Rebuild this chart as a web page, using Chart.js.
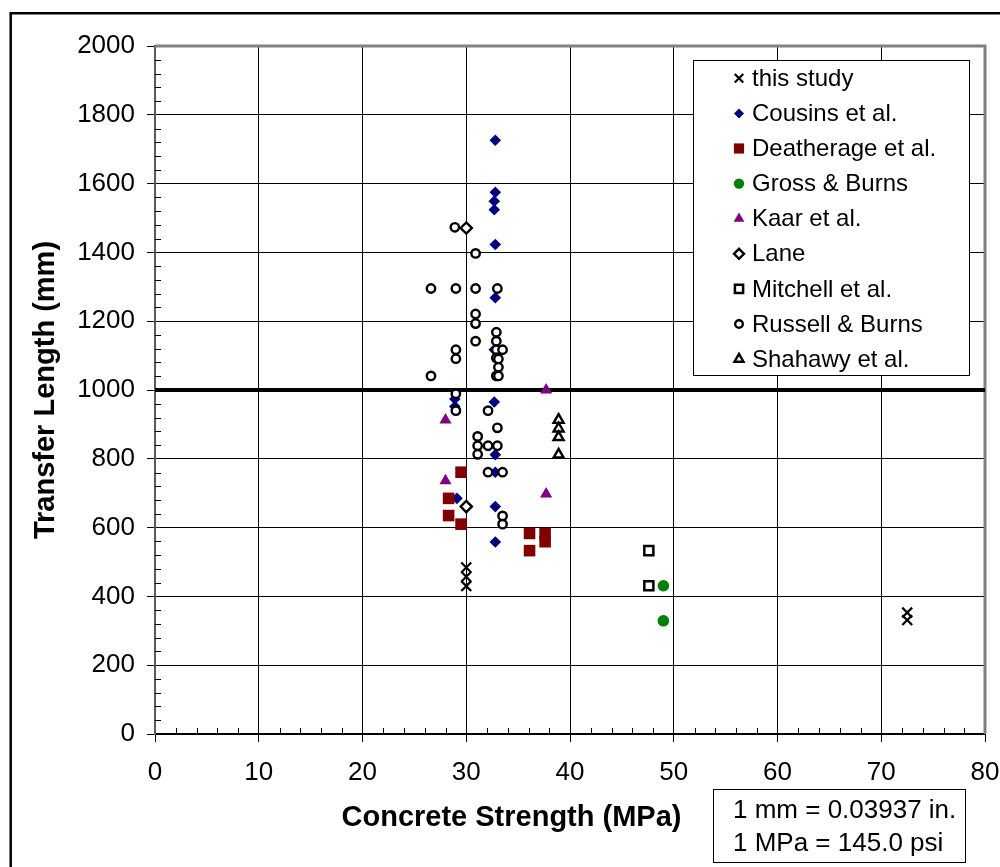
<!DOCTYPE html>
<html><head><meta charset="utf-8">
<script src="https://cdn.jsdelivr.net/npm/chart.js@4.4.0/dist/chart.umd.min.js"></script>
<style>html,body{margin:0;padding:0;background:#fff;}canvas{display:block;}</style>
</head><body>
<canvas id="c" width="1000" height="867"></canvas>
<script>
// ---------- data (MPa, mm) ----------
const thisStudyX = [30.0, 30.0, 30.0, 72.5, 72.5];
const thisStudyY = [484, 457, 430, 353, 331];

const cousinsX = [32.8, 32.8, 32.7, 32.7, 32.8, 32.8, 32.7, 28.9, 28.9, 32.7, 32.8, 32.8, 29.1, 32.8, 32.8];
const cousinsY = [1726, 1575, 1549, 1524, 1423, 1268, 1117, 974, 952, 965, 812, 761, 685, 661, 558];

const deatherageX = [29.5, 28.3, 28.3, 29.5, 36.1, 36.1, 37.6, 37.6];
const deatherageY = [761, 685, 635, 610, 583, 533, 583, 559];

const grossX = [49.0, 49.0];
const grossY = [431, 329];

const kaarX = [28.0, 28.0, 37.7, 37.7];
const kaarY = [913, 736, 1000, 698];

const laneX = [30.0, 30.0];
const laneY = [1471, 661];

const mitchellX = [47.6, 47.6];
const mitchellY = [533, 431];

const russellX = [28.9, 30.9, 26.6, 29.0, 30.9, 33.0, 30.9, 30.9, 30.9, 32.9, 32.9, 32.9, 33.5, 32.9, 33.1, 33.1, 32.9, 33.1,
                  29.0, 29.0, 26.6, 29.0, 29.0, 32.1, 33.0, 31.1, 31.1, 32.1, 33.0, 31.1, 32.1, 33.5, 33.5, 33.5];
const russellY = [1473, 1397, 1295, 1295, 1295, 1295, 1221, 1193, 1142, 1168, 1142, 1117, 1117, 1093, 1090, 1066, 1041, 1041,
                  1117, 1091, 1041, 989, 940, 940, 890, 865, 838, 838, 838, 813, 761, 761, 634, 610];

const shahawyX = [38.9, 38.9, 38.9, 38.9];
const shahawyY = [913, 888, 863, 812];

const refLineX = [0, 80];
const refLineY = [1000, 1000];

const xTickValues = [0, 10, 20, 30, 40, 50, 60, 70, 80];
const yTickValues = [0, 200, 400, 600, 800, 1000, 1200, 1400, 1600, 1800, 2000];

const seriesNames = ['this study', 'Cousins et al.', 'Deatherage et al.', 'Gross & Burns', 'Kaar et al.',
                     'Lane', 'Mitchell et al.', 'Russell & Burns', 'Shahawy et al.'];
const xTitle = 'Concrete Strength (MPa)';
const yTitle = 'Transfer Length (mm)';
const noteLines = ['1 mm = 0.03937 in.', '1 MPa = 145.0 psi'];

// ---------- build ----------
const zip = (xs, ys) => xs.map((x, i) => ({x: x, y: ys[i]}));
const FONT = '"Liberation Sans", Arial, Helvetica, sans-serif';

// plot markers (r) and legend markers (lr)
const markerStyles = [
  {style: 'crossRot', r: 7, lr: 6, fill: '#000', stroke: '#000', lw: 2.2},
  {style: 'rectRot', r: 5.8, lr: 5, fill: '#000080', stroke: '#000080', lw: 0},
  {style: 'rect', r: 8.2, lr: 7.2, fill: '#800000', stroke: '#800000', lw: 0},
  {style: 'circle', r: 5.8, lr: 5.2, fill: '#008000', stroke: '#008000', lw: 0},
  {style: 'triangle', r: 7, lr: 6.2, fill: '#800080', stroke: '#800080', lw: 0},
  {style: 'rectRot', r: 5.6, lr: 5, fill: '#ffffff', stroke: '#000', lw: 2.4},
  {style: 'rect', r: 6.4, lr: 5.8, fill: '#ffffff', stroke: '#000', lw: 2.5},
  {style: 'circle', r: 4.2, lr: 3.8, fill: '#ffffff', stroke: '#000', lw: 2.4},
  {style: 'triangle', r: 5.8, lr: 5.2, fill: '#ffffff', stroke: '#000', lw: 2.4}
];
const seriesData = [
  zip(thisStudyX, thisStudyY), zip(cousinsX, cousinsY), zip(deatherageX, deatherageY),
  zip(grossX, grossY), zip(kaarX, kaarY), zip(laneX, laneY), zip(mitchellX, mitchellY),
  zip(russellX, russellY), zip(shahawyX, shahawyY)
];

const datasets = seriesData.map((d, i) => ({
  type: 'scatter',
  label: seriesNames[i],
  data: d,
  showLine: false,
  pointStyle: markerStyles[i].style,
  pointRadius: markerStyles[i].r,
  pointHoverRadius: markerStyles[i].r,
  pointBackgroundColor: markerStyles[i].fill,
  pointBorderColor: markerStyles[i].stroke,
  pointBorderWidth: markerStyles[i].lw,
  order: 20 - i
}));
datasets.push({
  type: 'line',
  label: 'limit',
  data: zip(refLineX, refLineY),
  borderColor: '#000',
  borderWidth: 4,
  pointRadius: 0,
  fill: false,
  order: 100
});

function drawMarker(ctx, m, x, y) {
  const r = m.lr;
  ctx.beginPath();
  if (m.style === 'circle') {
    ctx.arc(x, y, r, 0, Math.PI * 2);
  } else if (m.style === 'rectRot') {
    ctx.moveTo(x, y - r); ctx.lineTo(x + r, y); ctx.lineTo(x, y + r); ctx.lineTo(x - r, y); ctx.closePath();
  } else if (m.style === 'rect') {
    const s = r * Math.SQRT1_2; ctx.rect(x - s, y - s, 2 * s, 2 * s);
  } else if (m.style === 'triangle') {
    ctx.moveTo(x, y - r);
    ctx.lineTo(x + r * Math.sin(2 * Math.PI / 3), y - r * Math.cos(2 * Math.PI / 3));
    ctx.lineTo(x + r * Math.sin(4 * Math.PI / 3), y - r * Math.cos(4 * Math.PI / 3));
    ctx.closePath();
  } else if (m.style === 'crossRot') {
    const o = r * Math.SQRT1_2;
    ctx.moveTo(x - o, y - o); ctx.lineTo(x + o, y + o);
    ctx.moveTo(x + o, y - o); ctx.lineTo(x - o, y + o);
    ctx.strokeStyle = m.stroke; ctx.lineWidth = m.lw; ctx.stroke();
    return;
  }
  ctx.fillStyle = m.fill; ctx.fill();
  if (m.lw > 0) { ctx.strokeStyle = m.stroke; ctx.lineWidth = m.lw; ctx.stroke(); }
}

const decor = {
  id: 'decor',
  beforeDatasetsDraw(chart) {
    const {ctx, chartArea: a, scales: {x, y}} = chart;
    ctx.save();
    // plot area border (top / right)
    ctx.strokeStyle = '#808080'; ctx.lineWidth = 3;
    ctx.beginPath(); ctx.moveTo(a.left, a.top); ctx.lineTo(a.right, a.top); ctx.lineTo(a.right, a.bottom); ctx.stroke();
    // minor ticks
    ctx.strokeStyle = '#000'; ctx.lineWidth = 1;
    ctx.beginPath();
    for (let v = 40; v < 2000; v += 40) {
      if (v % 200 === 0) continue;
      const py = Math.round(y.getPixelForValue(v)) + 0.5;
      ctx.moveTo(a.left, py); ctx.lineTo(a.left + 6, py);
    }
    for (let v = 2; v < 80; v += 2) {
      if (v % 10 === 0) continue;
      const px = Math.round(x.getPixelForValue(v)) + 0.5;
      ctx.moveTo(px, a.bottom); ctx.lineTo(px, a.bottom - 6);
    }
    ctx.stroke();
    ctx.restore();
  },
  afterDraw(chart) {
    const {ctx} = chart;
    ctx.save();
    // legend
    ctx.fillStyle = '#fff'; ctx.fillRect(693.5, 60.5, 276, 315);
    ctx.strokeStyle = '#000'; ctx.lineWidth = 1; ctx.strokeRect(693.5, 60.5, 276, 315);
    ctx.font = '24px ' + FONT; ctx.textAlign = 'left'; ctx.textBaseline = 'middle';
    seriesNames.forEach((n, i) => {
      const cy = 78.3 + i * 35.1;
      drawMarker(ctx, markerStyles[i], 739, cy);
      ctx.fillStyle = '#000';
      ctx.fillText(n, 752, cy + 1);
    });
    // x title
    ctx.font = 'bold 29px ' + FONT; ctx.textAlign = 'center'; ctx.textBaseline = 'alphabetic';
    ctx.fillStyle = '#000';
    ctx.fillText(xTitle, 511.5, 826);
    // conversion note
    ctx.strokeStyle = '#000'; ctx.lineWidth = 1; ctx.strokeRect(713.5, 789.5, 252, 73);
    ctx.font = '26px ' + FONT; ctx.textAlign = 'left';
    ctx.fillText(noteLines[0], 733, 818);
    ctx.fillText(noteLines[1], 733, 851);
    // outer frame
    ctx.strokeStyle = '#000'; ctx.lineWidth = 2.5;
    ctx.beginPath(); ctx.moveTo(10.7, 867); ctx.lineTo(10.7, 13.3); ctx.lineTo(1000, 13.3); ctx.stroke();
    ctx.restore();
  }
};

new Chart(document.getElementById('c'), {
  data: {datasets: datasets},
  options: {
    responsive: false,
    devicePixelRatio: 1,
    animation: false,
    events: [],
    layout: {padding: {left: 10, top: 46, right: 15, bottom: 0}},
    plugins: {legend: {display: false}, tooltip: {enabled: false}, title: {display: false}},
    scales: {
      x: {
        type: 'linear', position: 'bottom', min: 0, max: 80,
        afterBuildTicks: s => { s.ticks = xTickValues.map(v => ({value: v})); },
        afterFit: s => { s.height = 133; s.paddingRight = 15; s.paddingLeft = 0; },
        ticks: {font: {family: FONT, size: 26}, color: '#000', padding: 15, maxRotation: 0, autoSkip: false,
                callback: v => String(v)},
        grid: {color: '#000', lineWidth: 1, drawTicks: true, tickLength: 8, tickColor: '#000'},
        border: {display: true, color: '#000', width: 2},
        title: {display: false}
      },
      y: {
        type: 'linear', position: 'left', min: 0, max: 2000,
        afterBuildTicks: s => { s.ticks = yTickValues.map(v => ({value: v})); },
        afterFit: s => { s.width = 145; s.paddingTop = 0; s.paddingBottom = 0; },
        ticks: {font: {family: FONT, size: 26}, color: '#000', padding: 12, autoSkip: false,
                callback: v => String(v)},
        grid: {color: '#000', lineWidth: 1, drawTicks: true, tickLength: 8, tickColor: '#000'},
        border: {display: true, color: '#5a5a5a', width: 2},
        title: {display: true, text: yTitle, color: '#000', font: {family: FONT, size: 29, weight: 'bold'}, padding: {top: 19, bottom: 0}}
      }
    }
  },
  plugins: [decor]
});
</script>
</body></html>
